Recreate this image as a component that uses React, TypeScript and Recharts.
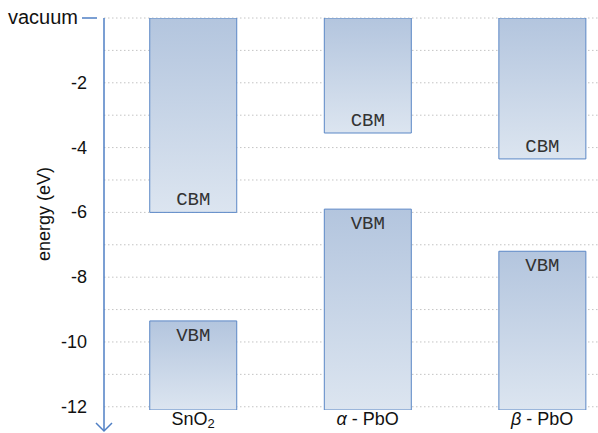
import React from 'react';
import {
  BarChart,
  Bar,
  XAxis,
  YAxis,
  CartesianGrid,
  LabelList,
  ReferenceLine,
} from 'recharts';

const MATERIALS = ['SnO2', 'α - PbO', 'β - PbO'];
const CBM_LEVELS = [-6.0, -3.55, -4.35];
const VBM_LEVELS = [-9.35, -5.9, -7.2];
const BAND_BOTTOM = -12.1;
const Y_TICKS = [0, -2, -4, -6, -8, -10, -12];
const GRID_LEVELS = [0, -1, -2, -3, -4, -5, -6, -7, -8, -9, -10, -11, -12];

const AXIS_BLUE = '#4f7fc4';
const BAR_STROKE = '#5b87c6';
const GRID = '#c4c4c4';
const TEXT = '#111111';
const SANS = '"Liberation Sans", Arial, sans-serif';
const MONO = '"Liberation Mono", "Courier New", monospace';

const X_DOMAIN: [number, number] = [-0.51, 2.32];

// stacked negative segments: 0 -> CBM, CBM -> VBM (gap), VBM -> bottom
const data = MATERIALS.map((name, i) => ({
  x: i,
  name,
  cbm: CBM_LEVELS[i],
  gap: VBM_LEVELS[i] - CBM_LEVELS[i],
  vbm: BAND_BOTTOM - VBM_LEVELS[i],
}));

const YTick = (props: any) => {
  const { x, y, payload } = props;
  if (payload.value === 0) {
    return (
      <g>
        <line x1={x - 14} y1={y} x2={x + 1} y2={y} stroke={AXIS_BLUE} strokeWidth={1.5} />
        <text x={x - 18} y={y} dy={6} textAnchor="end" fontSize={20} fill={TEXT} fontFamily={SANS}>
          vacuum
        </text>
      </g>
    );
  }
  return (
    <text x={x - 9} y={y} dy={6} textAnchor="end" fontSize={18} fill={TEXT} fontFamily={SANS}>
      {payload.value}
    </text>
  );
};

const XTick = (props: any) => {
  const { x, y, payload } = props;
  const name = MATERIALS[payload.value] ?? '';
  if (name === 'SnO2') {
    return (
      <text x={x} y={y} dy={7} textAnchor="middle" fontSize={18} fill={TEXT} fontFamily={SANS}>
        SnO
        <tspan fontSize={13} dy={3}>2</tspan>
      </text>
    );
  }
  const [greek, rest] = [name.slice(0, 1), name.slice(1)];
  return (
    <text x={x} y={y} dy={7} textAnchor="middle" fontSize={18} fill={TEXT} fontFamily={SANS}>
      <tspan fontStyle="italic">{greek}</tspan>
      {rest}
    </text>
  );
};

const BandLabel = (text: string, where: 'top' | 'bottom') => (props: any) => {
  const { x, y, width, height } = props;
  const top = Math.min(y, y + height);
  const bottom = Math.max(y, y + height);
  const ty = where === 'bottom' ? bottom - 7 : top + 20;
  return (
    <text x={x + width / 2} y={ty} textAnchor="middle" fontSize={19} fill="#333" fontFamily={MONO}>
      {text}
    </text>
  );
};

const AxisArrow = (props: any) => {
  const { x1, y1, x2, y2 } = props;
  return (
    <g>
      <line x1={x1} y1={y1} x2={x2} y2={y2} stroke={AXIS_BLUE} strokeWidth={1.5} />
      <polyline
        points={`${x2 - 8},${y2 - 8} ${x2},${y2} ${x2 + 8},${y2 - 8}`}
        fill="none"
        stroke={AXIS_BLUE}
        strokeWidth={1.5}
      />
    </g>
  );
};

export default function App() {
  return (
    <div style={{ position: 'absolute', left: 0, top: 0, width: 598, height: 433, background: '#fff' }}>
      <BarChart width={598} height={433} data={data} margin={{ top: 18, right: 0, bottom: 0, left: 0 }}>
        <defs>
          <linearGradient id="bandGrad" x1="0" y1="0" x2="0" y2="1">
            <stop offset="0%" stopColor="#b3c5de" />
            <stop offset="100%" stopColor="#dce5f0" />
          </linearGradient>
        </defs>
        <CartesianGrid
          vertical={false}
          horizontalValues={GRID_LEVELS}
          stroke={GRID}
          strokeDasharray="1.5 2.5"
        />
        <XAxis
          dataKey="x"
          type="number"
          domain={X_DOMAIN}
          allowDataOverflow
          ticks={[0, 1, 2]}
          tick={<XTick />}
          tickLine={false}
          axisLine={false}
          height={23}
        />
        <YAxis
          type="number"
          domain={[BAND_BOTTOM, 0]}
          allowDataOverflow
          ticks={Y_TICKS}
          tick={<YTick />}
          tickLine={false}
          axisLine={false}
          width={104}
          label={{
            value: 'energy (eV)',
            angle: -90,
            position: 'insideLeft',
            offset: 44,
            style: { fontSize: 18, fill: TEXT, fontFamily: SANS, textAnchor: 'middle' },
          }}
        />
        <Bar dataKey="cbm" stackId="band" barSize={87} fill="url(#bandGrad)" stroke={BAR_STROKE} strokeWidth={1} isAnimationActive={false}>
          <LabelList dataKey="cbm" content={BandLabel('CBM', 'bottom')} />
        </Bar>
        <Bar dataKey="gap" stackId="band" barSize={87} fill="none" stroke="none" isAnimationActive={false} />
        <Bar dataKey="vbm" stackId="band" barSize={87} fill="url(#bandGrad)" stroke={BAR_STROKE} strokeWidth={1} isAnimationActive={false}>
          <LabelList dataKey="vbm" content={BandLabel('VBM', 'top')} />
        </Bar>
        <ReferenceLine
          segment={[
            { x: X_DOMAIN[0], y: 0 },
            { x: X_DOMAIN[0], y: -12.75 },
          ]}
          ifOverflow="visible"
          shape={<AxisArrow />}
        />
      </BarChart>
    </div>
  );
}
